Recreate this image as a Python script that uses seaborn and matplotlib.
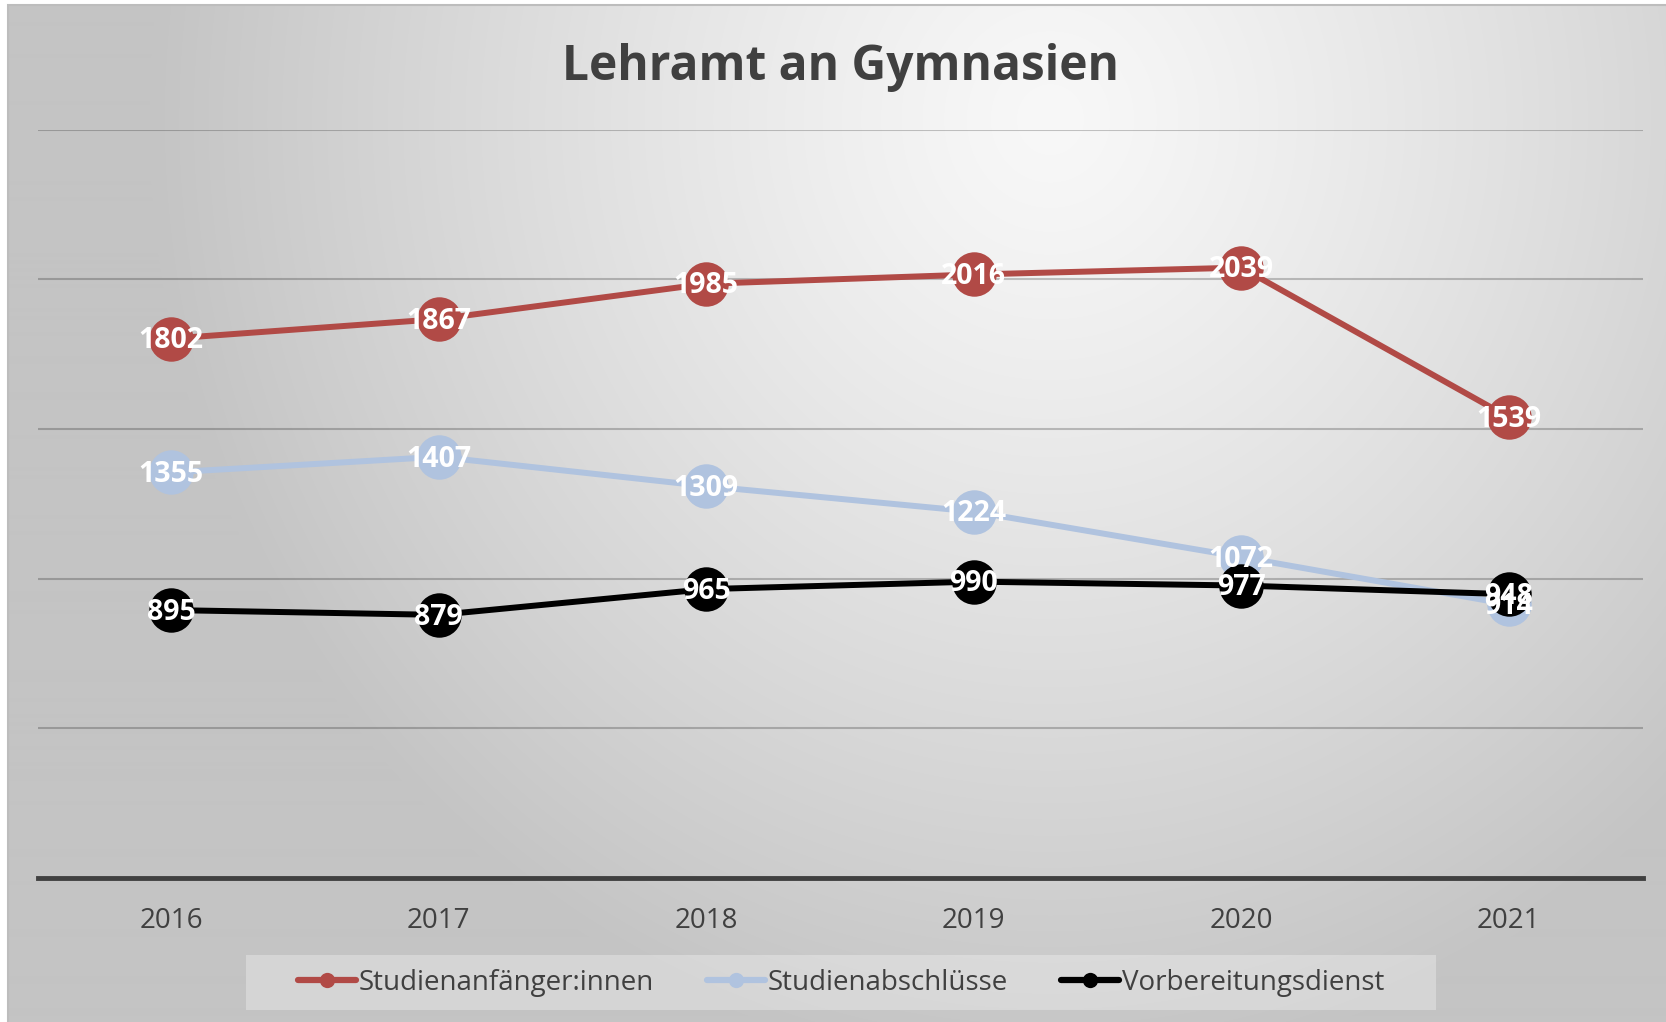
import numpy as np
import pandas as pd
import matplotlib
matplotlib.use("Agg")
import matplotlib.pyplot as plt
from matplotlib.lines import Line2D
from matplotlib.patches import Rectangle
import seaborn as sns

# ---------------- data ----------------
years = ["2016", "2017", "2018", "2019", "2020", "2021"]
series_names = ["Studienanfänger:innen", "Studienabschlüsse", "Vorbereitungsdienst"]
anfaenger = [1802, 1867, 1985, 2016, 2039, 1539]
abschluesse = [1355, 1407, 1309, 1224, 1072, 914]
vorbereitung = [895, 879, 965, 990, 977, 948]
title = "Lehramt an Gymnasien"

colors = ["#B14A46", "#B0C3DF", "#000000"]

df = pd.DataFrame({
    "Jahr": years * 3,
    "x": list(range(len(years))) * 3,
    "Wert": anfaenger + abschluesse + vorbereitung,
    "Serie": [series_names[0]] * 6 + [series_names[1]] * 6 + [series_names[2]] * 6,
})

sns.set_style("white")
plt.rcParams["font.family"] = ["Open Sans", "DejaVu Sans"]

W, H = 1666, 1022
fig = plt.figure(figsize=(W / 100, H / 100), dpi=100)
fig.patch.set_facecolor("white")

# ---------------- gradient background ----------------
x0px, y0px = 8, 5
bg = fig.add_axes([x0px / W, 0, 1 - x0px / W, 1 - y0px / H], zorder=-10)
xs = np.arange(x0px, W)
ys = np.arange(y0px, H)
X, Y = np.meshgrid(xs, ys)
cx, cy, rx, ry = 1050, 120, 900, 950
d = np.sqrt(((X - cx) / rx) ** 2 + ((Y - cy) / ry) ** 2)
d = np.clip(d, 0, 1)
val = (248 - 52 * d ** 1.2) / 255.0
img = np.dstack([val, val, val])
bg.imshow(img, aspect="auto", interpolation="bilinear")
bg.set_axis_off()
fig.patches.append(Rectangle((x0px / W, -0.01), 1.02, 1 - y0px / H + 0.01,
                             transform=fig.transFigure, facecolor="none",
                             edgecolor="#bdbdbd", lw=1.5, zorder=-5))

# ---------------- main axes ----------------
ax = fig.add_axes([37.5 / W, 1 - 878 / H, 1605 / W, (878 - 129.6) / H])
ax.set_facecolor("none")

sns.lineplot(data=df, x="x", y="Wert", hue="Serie", palette=colors,
             hue_order=series_names, marker="o", markersize=32, linewidth=4.3,
             markeredgewidth=0, ax=ax, legend=False, sort=False)
for i, ln in enumerate(ax.get_lines()):
    ln.set_zorder(3 + i)

ax.set_xlim(-0.5, len(years) - 0.5)
ax.set_ylim(0, 2500)
ax.set_yticks([500, 1000, 1500, 2000, 2500])
ax.yaxis.grid(True, color="#000000", alpha=0.22, lw=1.5)
ax.set_axisbelow(True)
ax.set_yticklabels([])
ax.tick_params(axis="y", length=0)
ax.set_xticks(range(len(years)))
ax.set_xticklabels(years)
ax.tick_params(axis="x", length=0, pad=21, labelsize=20, labelcolor="#404040")
for s in ["left", "right", "top"]:
    ax.spines[s].set_visible(False)
ax.spines["bottom"].set_color("#404040")
ax.spines["bottom"].set_linewidth(3.5)
ax.set_xlabel("")
ax.set_ylabel("")

# data labels
for vals in [anfaenger, abschluesse, vorbereitung]:
    for i, v in enumerate(vals):
        ax.annotate(str(v), (i, v), xytext=(0, -7), textcoords="offset points",
                    ha="center", va="baseline", color="white", fontsize=20.5,
                    fontweight="bold", zorder=20)

# title
fig.text(840.5 / W, 1 - 80 / H, title, ha="center", va="baseline",
         fontsize=34.5, fontweight="bold", color="#404040")

# legend
fig.patches.append(Rectangle((246 / W, 1 - 1010 / H), 1190 / W, 55 / H,
                             transform=fig.transFigure, facecolor="white",
                             alpha=0.3, edgecolor="none", zorder=1))
handles = [Line2D([0], [0], color=c, lw=4.5, marker="o", markersize=11,
                  markeredgewidth=0) for c in colors]
fig.legend(handles, series_names, loc="center", bbox_to_anchor=(841 / W, 1 - 982.5 / H),
           ncol=3, frameon=False, handlelength=2.1, handletextpad=0.1,
           columnspacing=1.9, fontsize=20, labelcolor="#404040")

fig.savefig("out.png", dpi=100)
